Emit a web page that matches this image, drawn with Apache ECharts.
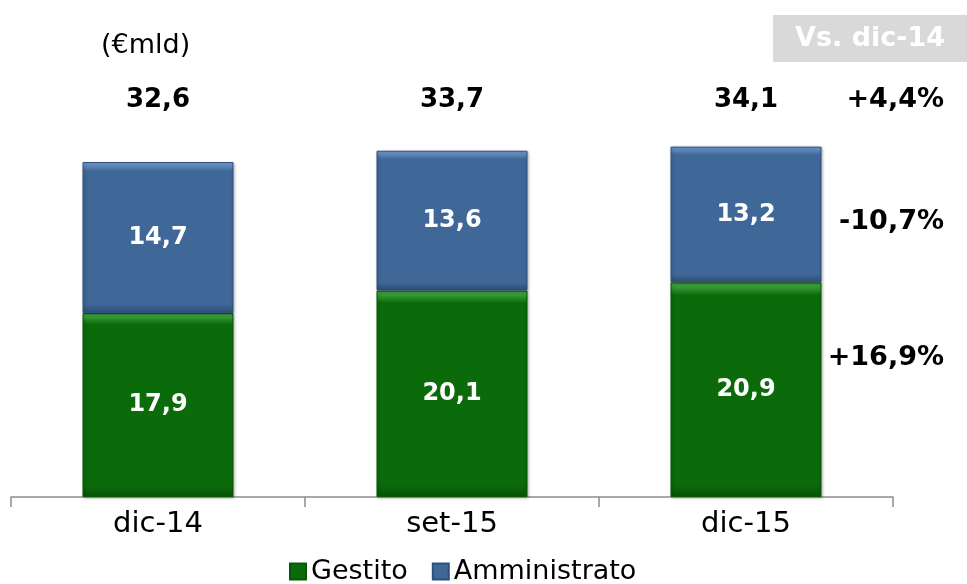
<!DOCTYPE html>
<html><head><meta charset="utf-8">
<script src="https://cdn.jsdelivr.net/npm/echarts@6/dist/echarts.min.js"></script>
<style>html,body{margin:0;padding:0;background:#fff}#c{width:967px;height:584px}</style>
</head><body><div id="c"></div>
<script>
const categories = ['dic-14', 'set-15', 'dic-15'];
const gestito = [17.9, 20.1, 20.9];
const amministrato = [14.7, 13.6, 13.2];
const totals = [32.6, 33.7, 34.1];
const changes = ['+4,4%', '-10,7%', '+16,9%'];
const unitLabel = '(€mld)';
const compareLabel = 'Vs. dic-14';

const FONT = '"DejaVu Sans", sans-serif';
const fmt = v => String(v).replace('.', ',');

const chart = echarts.init(document.getElementById('c'));
const grad = (top, mid, bot) => new echarts.graphic.LinearGradient(0, 0, 0, 1, [
  {offset: 0, color: top}, {offset: 0.06, color: mid}, {offset: 0.94, color: mid}, {offset: 1, color: bot}
]);
chart.setOption({
  animation: false,
  grid: {left: 11, right: 74, top: 86, bottom: 87},
  legend: {
    top: 553, left: 284, itemWidth: 16, itemHeight: 16, itemGap: 24, icon: 'rect',
    textStyle: {fontFamily: FONT, fontSize: 27, color: '#000', padding: [0,0,0,0]},
    data: ['Gestito', 'Amministrato']
  },
  xAxis: {
    type: 'category', data: categories,
    axisLine: {lineStyle: {color: '#8c8c8c', width: 1.5}},
    axisTick: {show: true, length: 10, lineStyle: {color: '#8c8c8c', width: 1.5}},
    axisLabel: {fontFamily: FONT, fontSize: 29, color: '#000', margin: 13}
  },
  yAxis: {type: 'value', min: 0, max: 40, show: false, splitLine: {show: false}},
  series: [
    {
      name: 'Gestito', type: 'bar', stack: 't', barWidth: 151, data: gestito,
      itemStyle: {color: grad('#4cb84c', '#0b6b0b', '#065206'), borderColor: '#075807', borderWidth: 1,
        shadowColor: 'rgba(0,0,0,0.3)', shadowBlur: 3, shadowOffsetX: 1, shadowOffsetY: 1},
      label: {show: true, position: 'inside', formatter: p => fmt(p.value), color: '#fff',
        fontFamily: FONT, fontWeight: 'bold', fontSize: 24}
    },
    {
      name: 'Amministrato', type: 'bar', stack: 't', barWidth: 151, data: amministrato,
      itemStyle: {color: grad('#7aa3d8', '#3f6797', '#2e4e76'), borderColor: '#2f5080', borderWidth: 1,
        shadowColor: 'rgba(0,0,0,0.3)', shadowBlur: 3, shadowOffsetX: 1, shadowOffsetY: 1},
      label: {show: true, position: 'inside', formatter: p => fmt(p.value), color: '#fff',
        fontFamily: FONT, fontWeight: 'bold', fontSize: 24}
    }
  ],
  graphic: [
    {type: 'text', left: 101, top: 32, style: {text: unitLabel, font: '27px ' + FONT, fill: '#000'}},
    {type: 'rect', shape: {x: 773, y: 15, width: 194, height: 47}, style: {fill: '#d9d9d9'}},
    {type: 'text', x: 870, y: 39, style: {text: compareLabel, font: 'bold 27px ' + FONT, fill: '#fff', align: 'center', verticalAlign: 'middle'}},
    {type: 'text', x: 944, y: 100, style: {text: changes[0], font: 'bold 27px ' + FONT, fill: '#000', align: 'right', verticalAlign: 'middle'}},
    {type: 'text', x: 944, y: 222, style: {text: changes[1], font: 'bold 27px ' + FONT, fill: '#000', align: 'right', verticalAlign: 'middle'}},
    {type: 'text', x: 944, y: 358, style: {text: changes[2], font: 'bold 27px ' + FONT, fill: '#000', align: 'right', verticalAlign: 'middle'}}
  ]
});
// total labels placed above each bar at a common height, positioned via the axis scales
const totalY = 38.6;
const totalTexts = totals.map((t, i) => {
  const [px, py] = chart.convertToPixel({gridIndex: 0}, [i, totalY]);
  return {type: 'text', x: px, y: py, style: {text: fmt(t), font: 'bold 26px ' + FONT, fill: '#000', align: 'center', verticalAlign: 'middle'}};
});
chart.setOption({graphic: chart.getOption().graphic[0].elements.concat(totalTexts)});
</script></body></html>
